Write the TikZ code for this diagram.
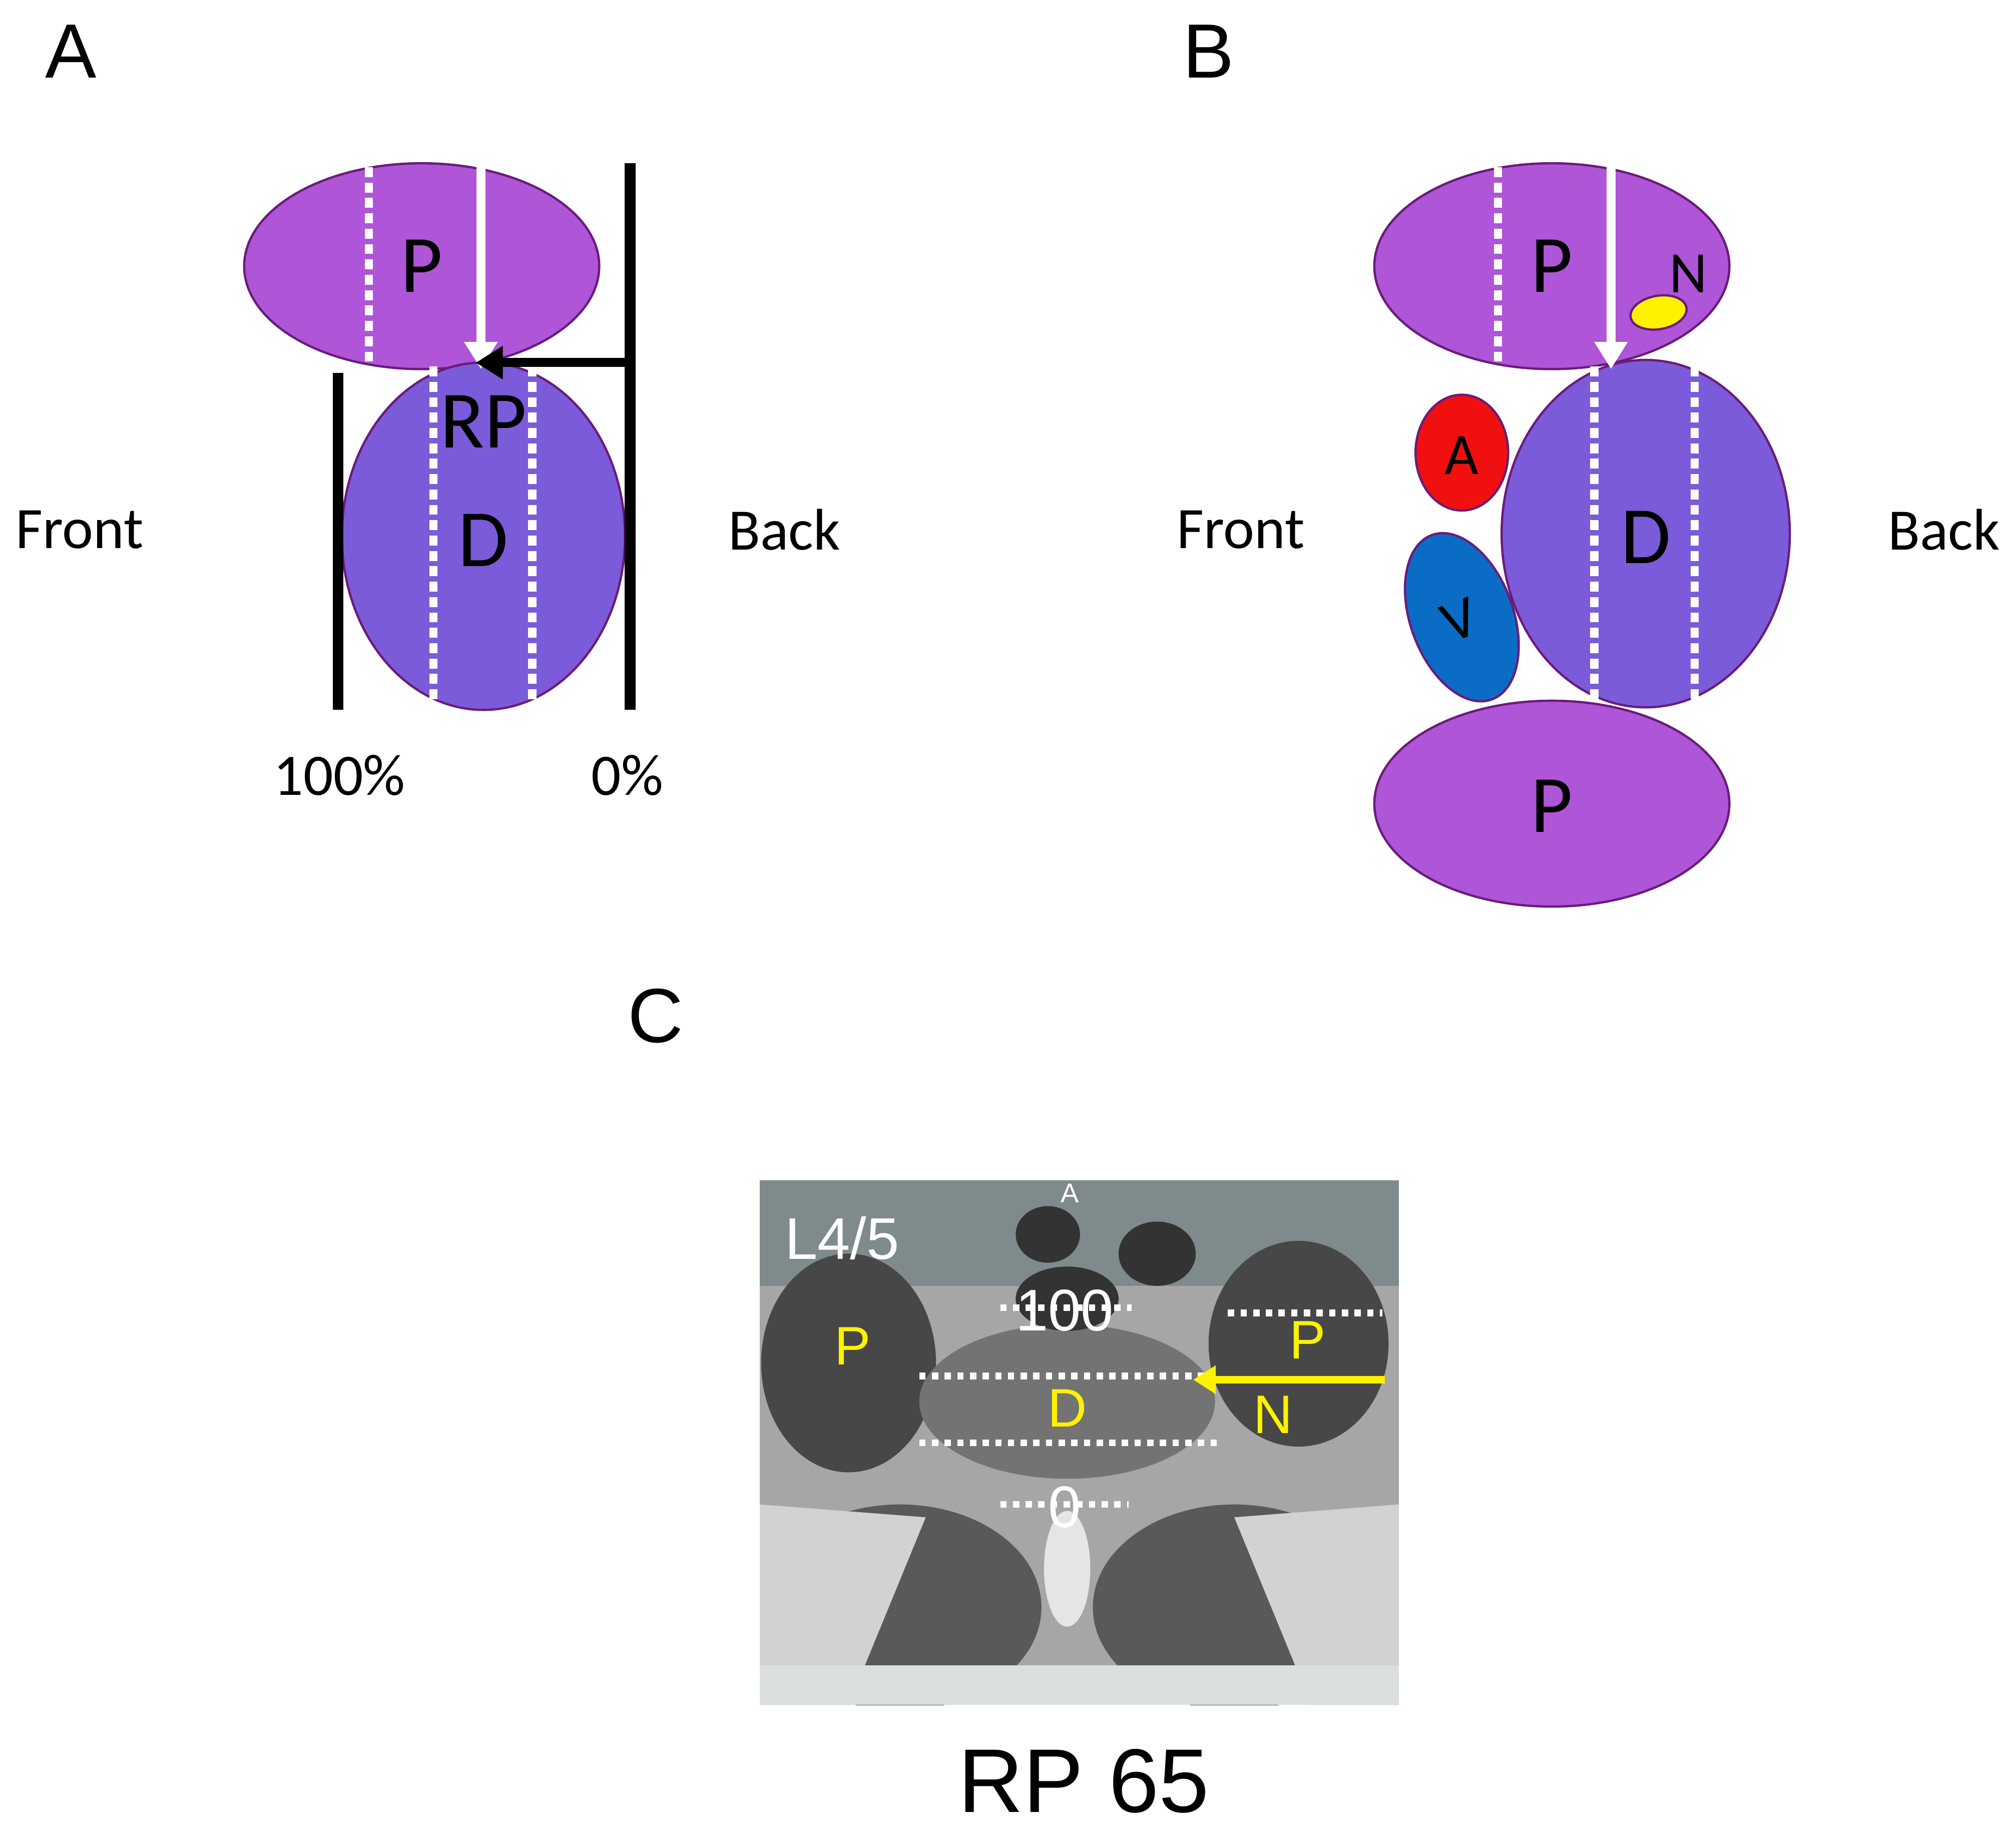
\documentclass[tikz,border=0pt]{standalone}
\usepackage{fontspec}
\setmainfont{Carlito}
\newfontfamily\arialf{Liberation Sans}
\usetikzlibrary{arrows.meta,shapes.geometric}
\definecolor{pP}{HTML}{AE55D8}
\definecolor{pD}{HTML}{7B5BD9}
\definecolor{edge}{HTML}{6A1B7A}
\definecolor{vred}{HTML}{F01010}
\definecolor{vblue}{HTML}{0A6CC4}
\definecolor{mtop}{HTML}{7F8A8C}
\begin{document}
\begin{tikzpicture}[x=0.01cm,y=0.01cm,
 pel/.style={fill=pP,draw=edge,line width=0.5pt},
 del/.style={fill=pD,draw=edge,line width=0.5pt},
 wd/.style={white,line width=1.8pt,dash pattern=on 2.2pt off 1.2pt},
 bl/.style={black,line width=2.4pt},
 big/.style={font=\fontsize{18}{21}\selectfont},
 side/.style={font=\fontsize{13}{15}\selectfont},
 mri/.style={white,line width=1.5pt,dash pattern=on 1.4pt off 1.4pt},
 yl/.style={text=yellow,font=\arialf\fontsize{12}{14}\selectfont}]
\useasboundingbox (0,0) rectangle (1568,-1426);
% Panel A
\node[font=\arialf\fontsize{17}{20}\selectfont] (lA) at (55,-40) {A};
\node[pel,ellipse,minimum width=2.76cm,minimum height=1.6cm,inner sep=0] (aP) at (328,-207) {};
\node[del,ellipse,minimum width=2.2cm,minimum height=2.7cm,inner sep=0] (aD) at (376,-417) {};
\draw[wd] (287,-130) -- (287,-285);
\draw[wd] (337,-285) -- (337,-548);
\draw[wd] (414,-285) -- (414,-548);
\coordinate (a1) at (374,-130); \coordinate (a2) at (374,-287);
\draw[white,line width=2pt,-{Triangle[length=6pt,width=7pt]}] (a1) -- (a2);
\draw[bl] (490,-127) -- (490,-552);
\draw[bl] (263,-290) -- (263,-552);
\coordinate (b1) at (490,-282); \coordinate (b2) at (370,-282);
\draw[black,line width=2pt,-{Triangle[length=6pt,width=7pt]}] (b1) -- (b2);
\node[big] at (328,-207) {P};
\node[big] at (376,-328) {RP};
\node[big] at (376,-420) {D};
\node[side] at (62,-412) {Front};
\node[side] at (610,-412) {Back};
\node[side] at (264,-603) {100\%};
\node[side] at (488,-603) {0\%};
% Panel B
\node[font=\arialf\fontsize{17}{20}\selectfont] (lB) at (940,-40) {B};
\node[pel,ellipse,minimum width=2.76cm,minimum height=1.6cm,inner sep=0] (bP) at (1207,-207) {};
\node[pel,ellipse,minimum width=2.76cm,minimum height=1.6cm,inner sep=0] (bP2) at (1207,-625) {};
\node[del,ellipse,minimum width=2.24cm,minimum height=2.7cm,inner sep=0] (bD) at (1280,-415) {};
\node[ellipse,fill=vred,draw=edge,line width=0.5pt,minimum width=0.72cm,minimum height=0.9cm,inner sep=0] (bA) at (1137,-352) {};
\node[ellipse,fill=vblue,draw=edge,line width=0.5pt,minimum width=0.8cm,minimum height=1.36cm,inner sep=0,rotate=20] (bV) at (1137,-480) {};
\node[ellipse,fill=yellow,draw=edge,line width=0.5pt,minimum width=0.44cm,minimum height=0.26cm,inner sep=0,rotate=10] (bN) at (1290,-243) {};
\draw[wd] (1165,-130) -- (1165,-285);
\draw[wd] (1240,-285) -- (1240,-545);
\draw[wd] (1318,-285) -- (1318,-545);
\coordinate (c1) at (1253,-130); \coordinate (c2) at (1253,-287);
\draw[white,line width=2pt,-{Triangle[length=6pt,width=7pt]}] (c1) -- (c2);
\node[big] at (1207,-207) {P};
\node[big] at (1207,-627) {P};
\node[big] at (1280,-418) {D};
\node[side] at (1313,-213) {N};
\node[side] at (1137,-354) {A};
\node[side,rotate=20] at (1135,-482) {V};
\node[side] at (965,-412) {Front};
\node[side] at (1512,-412) {Back};
% Panel C
\node[font=\arialf\fontsize{17}{20}\selectfont] (lC) at (510,-790) {C};
\begin{scope}
\clip (591,-918) rectangle (1088,-1326);
\fill[gray!70] (591,-918) rectangle (1088,-1326);
\fill[mtop] (591,-918) rectangle (1088,-1000);
\fill[black!72] (660,-1060) ellipse (68 and 85);
\fill[black!72] (1010,-1045) ellipse (70 and 80);
\fill[black!55] (830,-1090) ellipse (115 and 60);
\fill[black!80] (815,-960) ellipse (25 and 22);
\fill[black!80] (900,-975) ellipse (30 and 25);
\fill[black!80] (830,-1010) ellipse (40 and 25);
\fill[black!65] (700,-1250) ellipse (110 and 80);
\fill[black!65] (960,-1250) ellipse (110 and 80);
\fill[gray!20] (830,-1220) ellipse (18 and 45);
\fill[gray!35] (591,-1326) -- (591,-1170) -- (720,-1180) -- (660,-1326) -- cycle;
\fill[gray!35] (1088,-1326) -- (1088,-1170) -- (960,-1180) -- (1020,-1326) -- cycle;
\fill[cyan!10!gray!30] (591,-1295) rectangle (1088,-1326);
\end{scope}
\node[white,font=\arialf\fontsize{13}{15}\selectfont] at (655,-963) {L4/5};
\node[white,font=\arialf\fontsize{6}{7}\selectfont] at (832,-928) {A};
\draw[mri] (778,-1017) -- (880,-1017);
\draw[mri] (955,-1021) -- (1075,-1021);
\draw[mri] (715,-1070) -- (945,-1070);
\draw[mri] (715,-1122) -- (950,-1122);
\draw[mri] (778,-1170) -- (878,-1170);
\node[white,font=\arialf\fontsize{13}{15}\selectfont] at (828,-1019) {100};
\node[white,font=\arialf\fontsize{13}{15}\selectfont] at (828,-1172) {0};
\node[yl] at (663,-1047) {P};
\node[yl] at (1017,-1042) {P};
\node[yl] at (830,-1095) {D};
\node[yl] at (990,-1100) {N};
\coordinate (d1) at (1077,-1073); \coordinate (d2) at (928,-1073);
\draw[yellow,line width=1.6pt,-{Triangle[length=5pt,width=6pt]}] (d1) -- (d2);
\node[font=\arialf\fontsize{20}{24}\selectfont] at (843,-1385) {RP 65};
\end{tikzpicture}
\end{document}
